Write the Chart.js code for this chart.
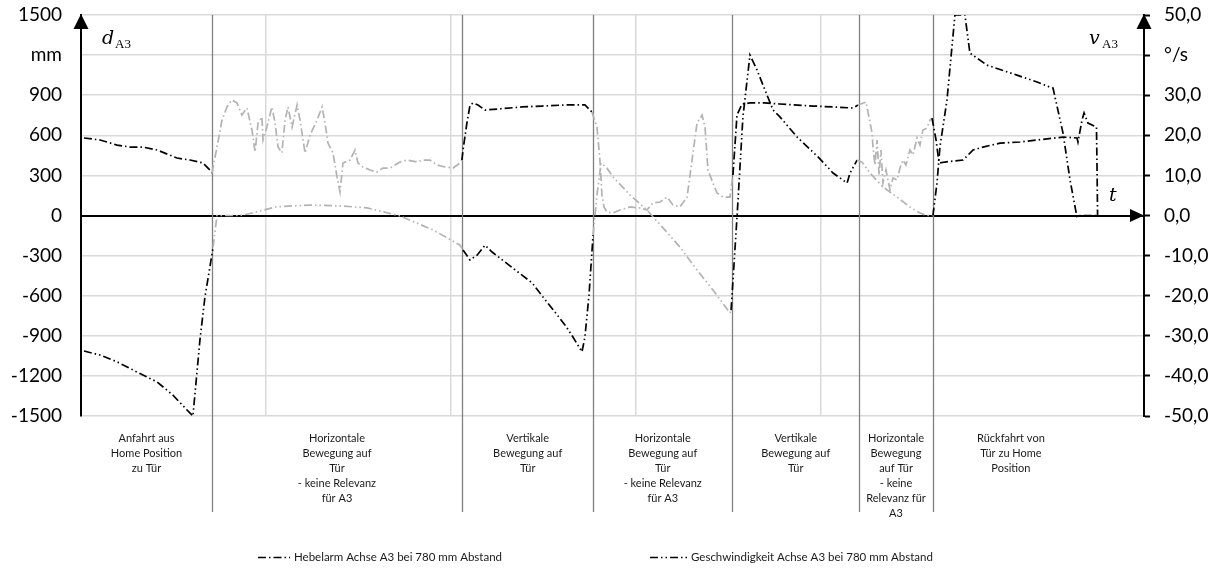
<!DOCTYPE html>
<html>
<head>
<meta charset="utf-8">
<title>Hebelarm und Geschwindigkeit Achse A3</title>
<script src="https://cdn.jsdelivr.net/npm/chart.js@4.4.1/dist/chart.umd.min.js"></script>
<style>
  html, body { margin: 0; padding: 0; background: #ffffff; }
  #wrap { width: 1221px; height: 571px; position: relative; }
</style>
</head>
<body>
<div id="wrap"><canvas id="chart" width="1221" height="571"></canvas></div>
<script>
// Zeit in s
const hebelarmT = [0.16,1.03,1.95,2.65,3.35,4.11,5.19,5.89,6.59,6.97,7.08,
  7.35,7.62,7.89,8.16,8.43,8.70,8.97,9.24,9.41,9.57,9.78,9.84,10.05,10.32,10.49,10.65,10.86,11.03,11.19,11.41,
  11.68,11.84,12.11,12.38,12.76,13.03,13.19,13.35,13.62,13.84,14.00,14.16,14.54,14.81,14.97,15.24,15.62,16.00,16.32,16.70,
  17.24,17.62,18.16,18.49,18.86,19.24,19.68,20.11,20.49,20.59,
  20.65,20.86,21.03,21.19,21.46,21.84,22.54,23.84,24.92,26.16,27.24,27.62,
  27.89,28.05,28.16,28.27,28.43,28.76,29.14,29.68,30.22,30.59,30.92,31.30,31.68,32.00,32.38,32.76,33.03,33.30,33.57,33.73,
  33.89,34.16,34.38,34.70,35.08,
  35.24,35.46,35.73,36.16,36.97,37.78,39.57,40.65,41.73,
  42.00,42.43,42.54,42.76,42.81,42.92,43.03,43.14,43.24,43.35,43.51,43.73,43.89,44.11,44.27,44.43,44.59,44.81,44.97,45.19,
  45.35,45.51,45.73,45.89,46.00,
  46.22,46.38,46.70,47.68,48.22,48.76,49.68,50.76,51.68,53.08,53.84,53.89,54.11,54.22,54.43,54.89,54.92,54.95];

// Hebelarm in mm
const hebelarmMm = [580,565,527,512,512,490,430,415,393,340,318,
  512,714,812,864,842,752,804,640,475,692,737,565,662,812,692,512,468,714,812,662,
  827,714,468,602,714,812,692,542,468,288,176,393,415,490,393,363,340,325,355,355,
  400,415,400,415,415,378,363,355,393,415,
  490,692,827,842,827,789,797,812,819,827,827,774,
  662,415,153,64,26,19,41,64,56,41,94,101,138,79,64,138,415,692,752,662,
  340,243,168,138,138,
  303,752,834,842,842,834,819,812,804,
  827,849,774,617,512,378,565,303,490,243,340,191,281,266,355,415,378,490,453,580,
  527,640,655,714,729,
  565,393,400,415,490,512,542,550,565,587,580,550,714,767,692,662,370,0];

// Zeit in s
const geschwT = [0.16,1.03,1.95,3.35,4.11,4.97,5.73,6.05,6.43,6.70,6.97,
  7.14,7.35,8.59,9.14,10.59,12.38,14.00,15.46,17.24,19.03,20.49,
  20.65,21.03,21.41,21.84,22.22,22.92,23.62,24.38,24.97,25.62,26.16,26.59,27.08,27.24,27.46,27.68,
  27.89,28.11,28.43,28.76,29.68,30.59,31.46,32.38,33.30,34.16,35.08,
  35.14,35.46,35.78,36.16,36.54,36.97,37.41,37.78,38.70,39.84,40.65,41.41,41.57,41.95,
  42.22,42.65,43.35,44.11,44.81,45.35,45.73,46.00,
  46.05,46.27,46.43,46.81,47.24,47.78,48.05,48.97,49.30,50.59,51.68,52.38,52.54,53.08,53.46,53.84,54.00,54.92];

// Winkelgeschwindigkeit in °/s
const geschwDeg = [-33.8,-34.8,-36.5,-39.8,-41.5,-44.8,-48.5,-50.0,-31.0,-20.3,-12.8,
  -7.9,0,0,0.5,2.2,2.6,2.4,1.9,-0.1,-3.6,-7.4,
  -8.6,-11.1,-9.9,-7.4,-9.1,-11.6,-14.1,-16.8,-20.3,-24.1,-27.3,-30.3,-34.0,-30.3,-19.8,-4.9,
  5.1,13.1,11.8,9.6,5.1,1.4,-3.1,-7.9,-13.6,-18.6,-24.3,
  -23.6,-0.4,24.6,40.0,36.3,31.3,26.3,24.6,19.6,14.6,10.6,8.1,10.6,13.8,
  13.3,10.6,7.1,4.6,2.1,0.6,0,0,
  0,8.1,17.1,28.8,50,50,40.5,37.5,37.0,35.0,33.3,32.0,31.8,20.6,8.9,-0.5,0,0];

// Bewegungsphasen (Grenzen in s) und ihre Beschriftung
const phaseBounds = [0, 7.08, 20.59, 27.70, 35.19, 42.08, 46.03, 54.5];
const phaseLabels = [
  ['Anfahrt aus', 'Home Position', 'zu Tür'],
  ['Horizontale', 'Bewegung auf', 'Tür', '- keine Relevanz', 'für A3'],
  ['Vertikale', 'Bewegung auf', 'Tür'],
  ['Horizontale', 'Bewegung auf', 'Tür', '- keine Relevanz', 'für A3'],
  ['Vertikale', 'Bewegung auf', 'Tür'],
  ['Horizontale', 'Bewegung', 'auf Tür', '- keine', 'Relevanz für', 'A3'],
  ['Rückfahrt von', 'Tür zu Home', 'Position']
];
const irrelevantPhases = [1, 3, 5];

const seriesNames = ['Hebelarm Achse A3 bei 780 mm Abstand', 'Geschwindigkeit Achse A3 bei 780 mm Abstand'];

const BLACK = '#000000';
const GREY = '#b3b3b3';
const GRID = '#d9d9d9';

function phaseOf(t) {
  for (let i = 0; i < phaseBounds.length - 1; i++) {
    if (t >= phaseBounds[i] && t < phaseBounds[i + 1]) return i;
  }
  return phaseBounds.length - 2;
}
function segColor(ctx) {
  const mid = (ctx.p0.parsed.x + ctx.p1.parsed.x) / 2;
  return irrelevantPhases.includes(phaseOf(mid)) ? GREY : BLACK;
}

const PLOT_LEFT = 81, PLOT_RIGHT = 1144, PLOT_TOP = 15, PLOT_BOTTOM = 416, W = 1221, H = 571;
const X_MAX = (PLOT_RIGHT - PLOT_LEFT) / 18.5;

function fitVertical(width) {
  return (s) => {
    s.width = width;
    s.paddingTop = PLOT_TOP;
    s.paddingBottom = 0;
  };
}

const decorPlugin = {
  id: 'decor',
  beforeDatasetsDraw(chart) {
    const { ctx, chartArea, scales } = chart;
    ctx.save();
    ctx.strokeStyle = '#808080';
    ctx.lineWidth = 1.3;
    for (let i = 1; i < phaseBounds.length - 1; i++) {
      const x = Math.round(scales.x.getPixelForValue(phaseBounds[i])) + 0.5;
      ctx.beginPath();
      ctx.moveTo(x, chartArea.top);
      ctx.lineTo(x, 512);
      ctx.stroke();
    }
    ctx.restore();
  },
  afterDraw(chart) {
    const { ctx, chartArea, scales } = chart;
    ctx.save();
    // Pfeilspitzen der Achsen
    ctx.fillStyle = BLACK;
    const tri = (pts) => { ctx.beginPath(); ctx.moveTo(pts[0], pts[1]); ctx.lineTo(pts[2], pts[3]); ctx.lineTo(pts[4], pts[5]); ctx.closePath(); ctx.fill(); };
    const L = chartArea.left, R = chartArea.right, T = chartArea.top;
    tri([L, T - 1, L - 7.5, T + 14, L + 7.5, T + 14]);
    tri([R, T - 1, R - 7.5, T + 14, R + 7.5, T + 14]);
    const y0 = scales.y1.getPixelForValue(0);
    tri([R, y0, R - 14, y0 - 6.5, R - 14, y0 + 6.5]);

    // Formelzeichen
    ctx.fillStyle = BLACK;
    ctx.textBaseline = 'alphabetic';
    ctx.textAlign = 'left';
    ctx.font = 'italic 19px "DejaVu Serif"';
    ctx.fillText('d', 102, 44);
    ctx.font = '13px "Liberation Serif"';
    ctx.fillText('A3', 115, 48);
    ctx.font = 'italic 19px "DejaVu Serif"';
    ctx.fillText('v', 1089, 44);
    ctx.font = '13px "Liberation Serif"';
    ctx.fillText('A3', 1102, 48);
    ctx.font = 'italic 19px "DejaVu Serif"';
    ctx.fillText('t', 1109, 201);

    // Phasenbeschriftung
    ctx.fillStyle = '#1a1a1a';
    ctx.font = '11px Lato';
    ctx.textAlign = 'center';
    ctx.textBaseline = 'middle';
    for (let i = 0; i < phaseLabels.length; i++) {
      const cx = (scales.x.getPixelForValue(phaseBounds[i]) + scales.x.getPixelForValue(phaseBounds[i + 1])) / 2;
      phaseLabels[i].forEach((line, k) => ctx.fillText(line, cx, 438 + 15 * k));
    }

    // Legende
    const items = [{ x: 258, w: 32 }, { x: 650, w: 37 }];
    ctx.font = '11.5px Lato';
    ctx.textAlign = 'left';
    ctx.textBaseline = 'middle';
    chart.data.datasets.forEach((ds, i) => {
      const it = items[i];
      ctx.strokeStyle = BLACK;
      ctx.lineWidth = 1.6;
      ctx.setLineDash(ds.borderDash);
      ctx.beginPath();
      ctx.moveTo(it.x, 557.5);
      ctx.lineTo(it.x + it.w, 557.5);
      ctx.stroke();
      ctx.setLineDash([]);
      ctx.fillStyle = '#1a1a1a';
      ctx.fillText(ds.label, it.x + it.w + 4, 557);
    });
    ctx.restore();
  }
};

new Chart(document.getElementById('chart'), {
  type: 'line',
  data: {
    datasets: [
      {
        label: seriesNames[0],
        data: hebelarmT.map((t, i) => ({ x: t, y: hebelarmMm[i] })),
        yAxisID: 'y1',
        borderColor: BLACK,
        borderWidth: 1.7,
        borderDash: [8, 3, 1.5, 3],
        pointRadius: 0,
        tension: 0,
        fill: false,
        segment: { borderColor: segColor }
      },
      {
        label: seriesNames[1],
        data: geschwT.map((t, i) => ({ x: t, y: geschwDeg[i] })),
        yAxisID: 'y2',
        borderColor: BLACK,
        borderWidth: 1.7,
        borderDash: [8, 3, 1.5, 3, 1.5, 3],
        pointRadius: 0,
        tension: 0,
        fill: false,
        segment: { borderColor: segColor }
      }
    ]
  },
  options: {
    responsive: false,
    animation: false,
    devicePixelRatio: 1,
    layout: { padding: 0 },
    plugins: { legend: { display: false }, tooltip: { enabled: false } },
    scales: {
      x: {
        type: 'linear',
        min: 0,
        max: X_MAX,
        ticks: { display: false, stepSize: 10 },
        grid: { color: GRID, lineWidth: 1.5, drawTicks: false },
        border: { display: false },
        afterFit: (s) => { s.height = H - PLOT_BOTTOM; s.paddingLeft = 0; s.paddingRight = 0; }
      },
      y1: {
        position: 'left',
        min: -1500,
        max: 1500,
        ticks: {
          stepSize: 300,
          padding: 19,
          color: '#000',
          font: { family: 'Lato', size: 19 },
          callback: (v) => (v === 1200 ? 'mm' : String(v))
        },
        grid: {
          drawTicks: false,
          color: (c) => (c.tick && c.tick.value === 0 ? BLACK : GRID),
          lineWidth: (c) => (c.tick && c.tick.value === 0 ? 2 : 1.5)
        },
        border: { display: true, color: BLACK, width: 2 },
        afterFit: fitVertical(PLOT_LEFT)
      },
      y2: {
        position: 'right',
        min: -50,
        max: 50,
        ticks: {
          stepSize: 10,
          padding: 14,
          color: '#000',
          font: { family: 'Lato', size: 19 },
          callback: (v) => (v === 40 ? '°/s' : v.toFixed(1).replace('.', ','))
        },
        grid: { drawOnChartArea: false, drawTicks: true, tickLength: 6, tickColor: BLACK, tickWidth: 2 },
        border: { display: true, color: BLACK, width: 2 },
        afterFit: fitVertical(W - PLOT_RIGHT)
      }
    }
  },
  plugins: [decorPlugin]
});
</script>
</body>
</html>
